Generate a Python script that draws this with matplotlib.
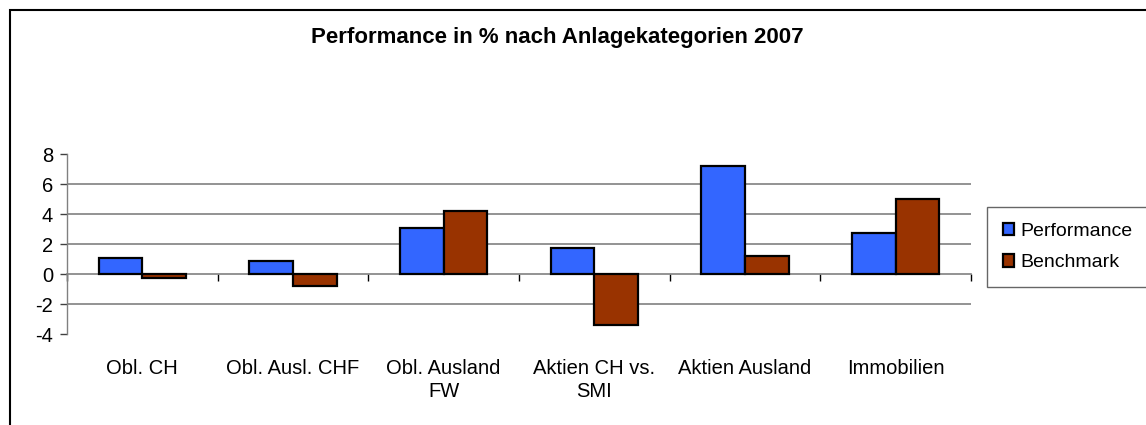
import numpy as np
import matplotlib.pyplot as plt
from matplotlib.patches import Rectangle

plt.rcParams['font.family'] = ['Liberation Sans', 'DejaVu Sans']

categories = ['Obl. CH', 'Obl. Ausl. CHF', 'Obl. Ausland\nFW', 'Aktien CH vs.\nSMI',
              'Aktien Ausland', 'Immobilien']
performance = [1.07, 0.85, 3.07, 1.73, 7.22, 2.76]
benchmark = [-0.27, -0.78, 4.18, -3.4, 1.22, 5.0]
yticks = [-4, -2, 0, 2, 4, 6, 8]

W, H = 1146, 425
fig = plt.figure(figsize=(W / 100, H / 100), dpi=100)
ax = fig.add_axes([67 / W, 91 / H, 904 / W, 180 / H])

x = np.arange(len(categories))
bw = 0.29
ax.bar(x - bw / 2, performance, bw, color='#3366FF', edgecolor='black', linewidth=1.6,
       label='Performance', zorder=3)
ax.bar(x + bw / 2, benchmark, bw, color='#993300', edgecolor='black', linewidth=1.6,
       label='Benchmark', zorder=3)

ax.set_xlim(-0.5, len(categories) - 0.5)
ax.set_ylim(-4, 8)
ax.set_yticks(yticks)
ax.set_yticklabels([str(v) for v in yticks], fontsize=14.5)
for v in [-2, 2, 4, 6]:
    ax.axhline(v, color='#808080', linewidth=1.2, zorder=1)

# category axis sits on zero
for s in ['top', 'right']:
    ax.spines[s].set_visible(False)
ax.spines['bottom'].set_position(('data', 0))
ax.spines['bottom'].set_color('#808080')
ax.spines['bottom'].set_linewidth(1.2)
ax.spines['left'].set_color('#808080')
ax.spines['left'].set_linewidth(1.0)
ax.set_xticks(x)
ax.set_xticklabels(categories, fontsize=14.5, linespacing=1.3)
ax.set_xticks(np.arange(len(categories) + 1) - 0.5, minor=True)
ax.tick_params(axis='x', which='major', length=0, pad=61)
ax.tick_params(axis='x', which='minor', length=5, width=1, color='black', direction='out')
ax.tick_params(axis='y', length=5, width=1, color='#404040', pad=5)

fig.text(557 / W, 1 - 38 / H, 'Performance in % nach Anlagekategorien 2007',
         ha='center', va='center', fontsize=16, fontweight='bold')

leg = fig.legend(loc='upper left', bbox_to_anchor=(987 / W, 1 - 207 / H), fontsize=14,
                 frameon=True, fancybox=False, handlelength=0.6, handleheight=0.6,
                 handletextpad=0.3, labelspacing=0.75, borderpad=0.8, borderaxespad=0)
leg.get_frame().set_edgecolor('#404040')
leg.get_frame().set_linewidth(1.0)
for h in leg.legend_handles:
    h.set_linewidth(1.6)

fig.patches.append(Rectangle((10 / W, -0.2), 1.2, 1.2 - 10 / H, transform=fig.transFigure,
                             fill=False, edgecolor='black', linewidth=1.5))

fig.savefig('out.png', dpi=100)
